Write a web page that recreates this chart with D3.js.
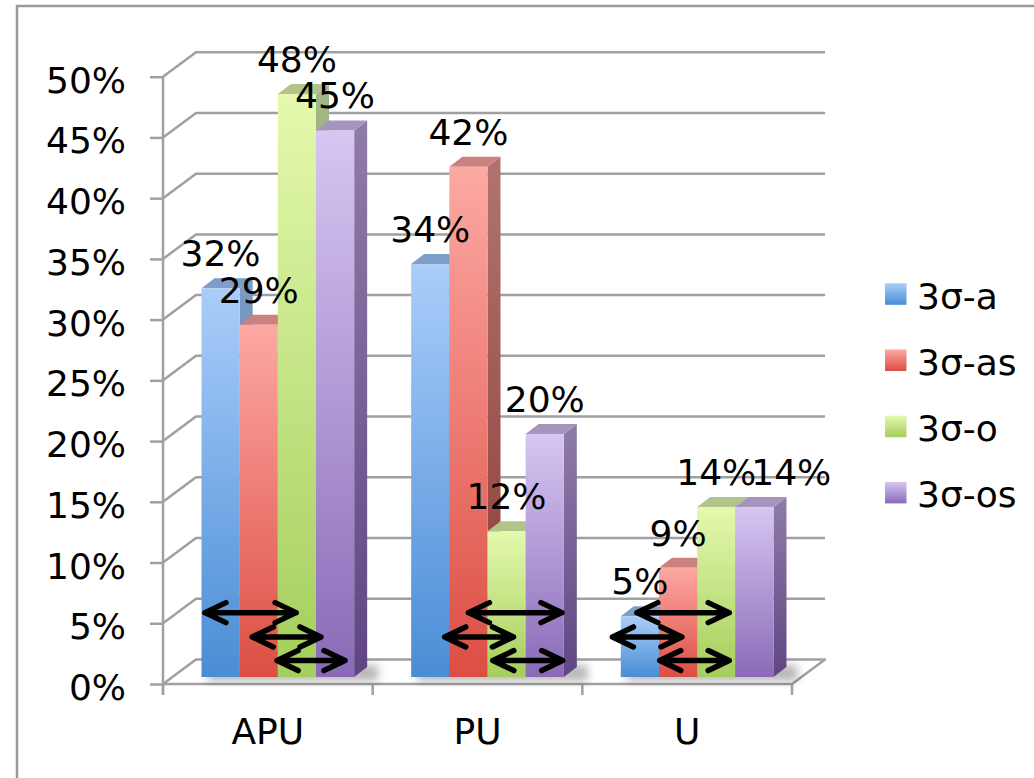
<!DOCTYPE html>
<html>
<head>
<meta charset="utf-8">
<script src="https://cdn.jsdelivr.net/npm/d3@7"></script>
<style>
  html, body { margin: 0; padding: 0; background: #fff; }
  svg { display: block; font-family: "DejaVu Sans", Verdana, sans-serif; }
</style>
</head>
<body>
<svg id="chart" width="1034" height="778"></svg>
<script>
// ---------------- data ----------------
const categories = ["APU", "PU", "U"];
const seriesNames = ["3σ-a", "3σ-as", "3σ-o", "3σ-os"];
const values_a  = [32, 34, 5];
const values_as = [29, 42, 9];
const values_o  = [48, 12, 14];
const values_os = [45, 20, 14];
const yTickValues = [0, 5, 10, 15, 20, 25, 30, 35, 40, 45, 50];
// double-headed arrows: category, start/end in bar-slot units, height in %
const arrowCategory = ["APU", "APU", "APU", "PU", "PU", "PU", "U", "U", "U"];
const arrowFrom     = [0.09, 1.33, 1.98, 1.50, 0.88, 2.14, 0.42, -0.22, 1.02];
const arrowTo       = [2.48, 3.13, 3.76, 3.95, 2.68, 3.97, 2.84, 1.60, 2.84];
const arrowLevel    = [5.3, 3.3, 1.35, 5.3, 3.3, 1.35, 5.3, 3.3, 1.35];

const seriesValues = [values_a, values_as, values_o, values_os];

// ---------------- styles ----------------
const palette = [
  { light: "#aacdfa", dark: "#4a8dd5", top: "#7f9ec7", sideL: "#7c9cc4", sideD: "#3f6898" },
  { light: "#fda8a3", dark: "#dc4e44", top: "#cb8180", sideL: "#b07470", sideD: "#8e3a33" },
  { light: "#e4f9ad", dark: "#a4ce5c", top: "#b1c58b", sideL: "#a5b888", sideD: "#6f8f3c" },
  { light: "#d6c6f2", dark: "#8a6ab7", top: "#a595be", sideL: "#8f7ca9", sideD: "#5f4683" }
];
const gridColor = "#a0a0a0";
const fontSize = 36;

// ---------------- layout ----------------
const frontLeft = 163, frontRight = 792, frontBase = 684, frontTop = 76.7;
const wallDx = 33, wallDy = -24.5;     // depth of the floor / side wall
const barShiftX = 9, barShiftY = -7;   // bars sit slightly behind the front edge
const barDepthX = 13, barDepthY = -10; // 3D thickness of a bar

const svg = d3.select("#chart");
const defs = svg.append("defs");

const y = d3.scaleLinear().domain([0, 50]).range([frontBase, frontTop]);
const x0 = d3.scaleBand().domain(categories).range([frontLeft, frontRight]);
const x1 = d3.scaleBand().domain(seriesNames).range([29.5, x0.bandwidth() - 27.5]);
const bw = x1.bandwidth();

// gradients
palette.forEach((p, i) => {
  const g = defs.append("linearGradient").attr("id", "front" + i)
    .attr("x1", 0).attr("y1", 0).attr("x2", 0).attr("y2", 1);
  g.append("stop").attr("offset", "0%").attr("stop-color", p.light);
  g.append("stop").attr("offset", "100%").attr("stop-color", p.dark);
  const s = defs.append("linearGradient").attr("id", "side" + i)
    .attr("x1", 0).attr("y1", 0).attr("x2", 0).attr("y2", 1);
  s.append("stop").attr("offset", "0%").attr("stop-color", p.sideL);
  s.append("stop").attr("offset", "100%").attr("stop-color", p.sideD);
});
const blur = defs.append("filter").attr("id", "blur").attr("x", "-50%").attr("y", "-50%")
  .attr("width", "200%").attr("height", "200%");
blur.append("feGaussianBlur").attr("stdDeviation", 4);

// outer frame
svg.append("rect").attr("x", 17).attr("y", 6).attr("width", 1100).attr("height", 900)
  .attr("fill", "none").attr("stroke", "#9a9a9a").attr("stroke-width", 2.5);

// floor
const floorPts = [[frontLeft, frontBase], [frontRight, frontBase],
  [frontRight + wallDx, frontBase + wallDy], [frontLeft + wallDx, frontBase + wallDy]];
svg.append("polygon").attr("points", floorPts.map(p => p.join(",")).join(" "))
  .attr("fill", "#fff").attr("stroke", gridColor).attr("stroke-width", 2.5)
  .attr("stroke-linejoin", "round");

// gridlines on side wall + back wall
svg.append("g").selectAll("path").data(yTickValues.filter(d => d > 0)).join("path")
  .attr("d", d => `M${frontLeft},${y(d)} L${frontLeft + wallDx},${y(d) + wallDy} L${frontRight + wallDx},${y(d) + wallDy}`)
  .attr("fill", "none").attr("stroke", gridColor).attr("stroke-width", 2.5);

// y axis
const yAxisG = svg.append("g").attr("transform", `translate(${frontLeft},0)`)
  .call(d3.axisLeft(y).tickValues(yTickValues).tickSize(13).tickPadding(0)
    .tickFormat(d => d + "%"));
yAxisG.select(".domain").remove();
yAxisG.selectAll(".tick line").attr("stroke", gridColor).attr("stroke-width", 2.5);
yAxisG.selectAll(".tick text").attr("x", -37).attr("dy", null).attr("y", 15.5)
  .attr("font-size", fontSize).attr("font-family", "DejaVu Sans").attr("fill", "#000");
svg.append("line").attr("x1", frontLeft).attr("x2", frontLeft)
  .attr("y1", y(50)).attr("y2", frontBase + 11)
  .attr("stroke", gridColor).attr("stroke-width", 2.5);

// category ticks & labels
const catBounds = categories.map(c => x0(c)).concat([frontRight]);
svg.append("g").selectAll("line").data(catBounds).join("line")
  .attr("x1", d => d).attr("x2", d => d).attr("y1", frontBase).attr("y2", frontBase + 11)
  .attr("stroke", gridColor).attr("stroke-width", 2.5);
svg.append("g").selectAll("text").data(categories).join("text")
  .attr("x", d => x0(d) + x0.bandwidth() / 2).attr("y", 744)
  .attr("text-anchor", "middle").attr("font-size", fontSize).text(d => d);

// shadows under bar groups
const barBase = frontBase + barShiftY;
svg.append("g").selectAll("rect").data(categories).join("rect")
  .attr("x", d => x0(d) + barShiftX + x1(seriesNames[0]) + 6)
  .attr("y", barBase - 12)
  .attr("width", 4 * bw + 18)
  .attr("height", 16)
  .attr("fill", "#000").attr("opacity", 0.28).attr("filter", "url(#blur)");

// bars
const bars = [];
categories.forEach((c, ci) => {
  seriesNames.forEach((s, si) => {
    bars.push({ cat: c, ser: s, si, v: seriesValues[si][ci] });
  });
});
const barG = svg.append("g");
bars.forEach(b => {
  const xl = x0(b.cat) + x1(b.ser) + barShiftX;
  const xr = xl + bw;
  const yt = y(b.v) + barShiftY;
  const g = barG.append("g");
  g.append("polygon")
    .attr("points", [[xr, yt], [xr + barDepthX, yt + barDepthY], [xr + barDepthX, barBase + barDepthY], [xr, barBase]].map(p => p.join(",")).join(" "))
    .attr("fill", `url(#side${b.si})`);
  g.append("polygon")
    .attr("points", [[xl, yt], [xr, yt], [xr + barDepthX, yt + barDepthY], [xl + barDepthX, yt + barDepthY]].map(p => p.join(",")).join(" "))
    .attr("fill", palette[b.si].top);
  g.append("rect").attr("x", xl).attr("y", yt).attr("width", bw).attr("height", barBase - yt)
    .attr("fill", `url(#front${b.si})`);
});

// value labels
const labelG = svg.append("g");
const placed = [];
bars.forEach(b => {
  const cx = x0(b.cat) + x1(b.ser) + barShiftX + bw / 2;
  const by = y(b.v) + barShiftY - 22;
  const t = labelG.append("text").attr("x", cx).attr("y", by)
    .attr("text-anchor", "middle").attr("font-size", fontSize).text(b.v + "%");
  let box = t.node().getBBox();
  const prev = placed[placed.length - 1];
  if (prev && prev.cat === b.cat && Math.abs(prev.y - by) < 8 && box.x < prev.right - 5) {
    const shift = prev.right - 5 - box.x;
    t.attr("x", cx + shift);
    box = t.node().getBBox();
  }
  placed.push({ cat: b.cat, y: by, right: box.x + box.width });
});

// arrows
const arrowG = svg.append("g").attr("stroke", "#000").attr("stroke-width", 5.5)
  .attr("fill", "none").attr("stroke-linecap", "round").attr("stroke-linejoin", "round");
arrowCategory.forEach((c, i) => {
  const base = x0(c) + x1(seriesNames[0]) + barShiftX;
  const xa = base + arrowFrom[i] * bw;
  const xb = base + arrowTo[i] * bw;
  const ya = y(arrowLevel[i]) + barShiftY;
  arrowG.append("path").attr("d",
    `M${xa},${ya} L${xb},${ya} ` +
    `M${xa + 21},${ya - 10} L${xa},${ya} L${xa + 21},${ya + 10} ` +
    `M${xb - 21},${ya - 10} L${xb},${ya} L${xb - 21},${ya + 10}`);
});

// legend
const legend = svg.append("g");
seriesNames.forEach((s, i) => {
  const top = 283.3 + i * 66.2;
  legend.append("rect").attr("x", 885).attr("y", top).attr("width", 21.5).attr("height", 21.5)
    .attr("fill", `url(#front${i})`);
  legend.append("text").attr("x", 917).attr("y", top + 25.3)
    .attr("font-size", fontSize).text(s);
});
</script>
</body>
</html>
